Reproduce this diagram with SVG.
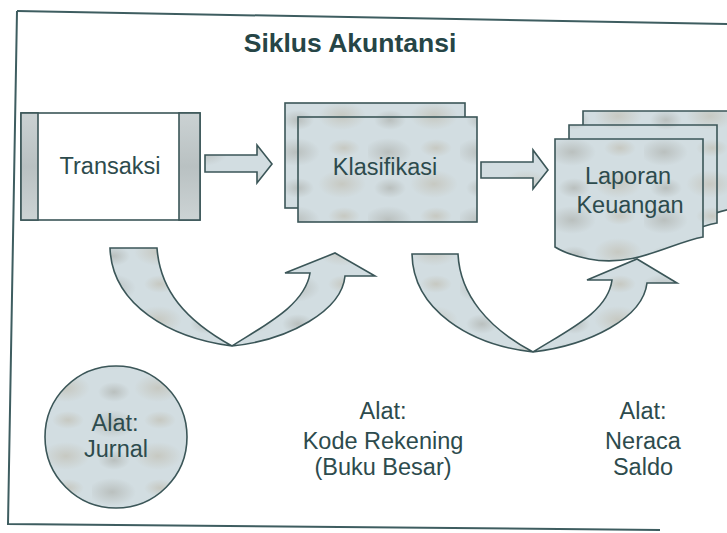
<svg xmlns="http://www.w3.org/2000/svg" width="727" height="533" viewBox="0 0 727 533">
  <style>
    .lbl { font-family: "Liberation Sans", Arial, Helvetica, sans-serif; font-size: 23.5px; fill: #2d4b4d; text-anchor: middle; }
    .title { font-family: "Liberation Sans", Arial, Helvetica, sans-serif; font-size: 26.5px; font-weight: bold; fill: #264546; text-anchor: middle; }
    .shape { fill: url(#mottle); stroke: #3b5658; stroke-width: 1.6; stroke-linejoin: miter; }
    .strip { fill: url(#stripGrad); stroke: #3b5658; stroke-width: 1.6; }
    .plain { fill: #ffffff; stroke: #3b5658; stroke-width: 1.6; }
    .frame { fill: none; stroke: #3e5d60; stroke-width: 2; }
  </style>
  <defs>
    <radialGradient id="blob">
      <stop offset="0" stop-color="#a2a39c" stop-opacity="0.5"/>
      <stop offset="0.6" stop-color="#a2a39c" stop-opacity="0.2"/>
      <stop offset="1" stop-color="#a2a39c" stop-opacity="0"/>
    </radialGradient>
    <radialGradient id="blob2">
      <stop offset="0" stop-color="#b9b09c" stop-opacity="0.45"/>
      <stop offset="0.6" stop-color="#b9b09c" stop-opacity="0.18"/>
      <stop offset="1" stop-color="#b9b09c" stop-opacity="0"/>
    </radialGradient>
    <pattern id="mottle" patternUnits="userSpaceOnUse" width="92" height="68">
      <rect width="92" height="68" fill="#d2dde1"/>
      <ellipse cx="20" cy="16" rx="24" ry="14" fill="url(#blob)"/>
      <ellipse cx="66" cy="48" rx="24" ry="14" fill="url(#blob2)"/>
      <ellipse cx="68" cy="12" rx="16" ry="9" fill="url(#blob2)"/>
      <ellipse cx="22" cy="52" rx="16" ry="10" fill="url(#blob)"/>
    </pattern>
    <linearGradient id="stripGrad" x1="0" y1="0" x2="0" y2="1">
      <stop offset="0" stop-color="#cbd2d3"/>
      <stop offset="0.5" stop-color="#b9c1c2"/>
      <stop offset="1" stop-color="#ccd3d4"/>
    </linearGradient>
  </defs>

  <rect width="727" height="533" fill="#ffffff"/>

  <g id="frame">
    <path class="frame" d="M17,11 L727,24"/>
    <path class="frame" d="M17,11 L8,524 L660,530"/>
  </g>

  <g id="title">
    <text class="title" x="350" y="52">Siklus Akuntansi</text>
  </g>

  <g id="transaksi">
    <rect class="plain" x="21" y="113" width="179" height="107"/>
    <rect class="strip" x="21" y="113" width="17" height="107"/>
    <rect class="strip" x="179" y="113" width="21" height="107"/>
    <text class="lbl" x="110" y="174">Transaksi</text>
  </g>

  <g id="klasifikasi">
    <rect class="shape" x="285" y="103" width="180" height="105"/>
    <rect class="shape" x="298" y="117" width="179" height="105"/>
    <text class="lbl" x="385" y="175">Klasifikasi</text>
  </g>

  <g id="laporan-keuangan">
    <path class="shape" d="M583,111 H731 V209 C698,215 663,240 617,231 C602,228 591,224 583,219 Z"/>
    <path class="shape" d="M569,125 H717 V223 C684,229 649,254 603,245 C588,242 577,238 569,233 Z"/>
    <path class="shape" d="M555,139 H703 V237 C670,243 635,268 589,259 C574,256 563,252 555,247 Z"/>
    <text class="lbl" x="628" y="184">Laporan</text>
    <text class="lbl" x="630" y="213">Keuangan</text>
  </g>

  <g id="alat-jurnal">
    <circle class="shape" cx="116" cy="437" r="71"/>
    <text class="lbl" x="115" y="431">Alat:</text>
    <text class="lbl" x="116" y="457">Jurnal</text>
  </g>

  <g id="alat-kode-rekening">
    <text class="lbl" x="383" y="419">Alat:</text>
    <text class="lbl" x="383" y="449">Kode Rekening</text>
    <text class="lbl" x="383" y="475">(Buku Besar)</text>
  </g>

  <g id="alat-neraca-saldo">
    <text class="lbl" x="643" y="419">Alat:</text>
    <text class="lbl" x="643" y="449">Neraca</text>
    <text class="lbl" x="643" y="475">Saldo</text>
  </g>

  <g id="connectors">
    <path class="shape" d="M205,155 H257 V145 L272,164 L257,183 V172 H205 Z"/>
    <path class="shape" d="M481,162 H533 V150 L548,170 L533,189 V178 H481 Z"/>
    <path class="shape" d="M110,248 H157 C160,290 185,320 232,346 C265,325 305,305 310,273 H285 L335,253 L375,276 H345 C342,310 290,340 232,346 C170,338 112,305 110,248 Z"/>
    <path class="shape" d="M412,254 H458 C460,295 488,328 533,352 C568,330 608,312 612,280 H587 L637,259 L677,283 H647 C643,318 590,345 533,352 C470,345 413,310 412,254 Z"/>
  </g>
</svg>
